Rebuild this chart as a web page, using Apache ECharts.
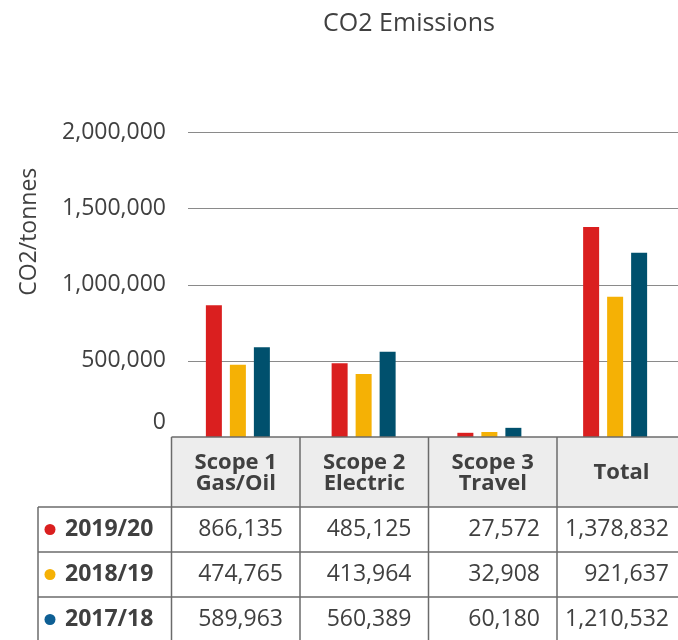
<!DOCTYPE html>
<html><head><meta charset="utf-8">
<script src="https://cdn.jsdelivr.net/npm/echarts@6/dist/echarts.min.js"></script>
<style>html,body{margin:0;padding:0;background:#fff}#c{width:678px;height:640px}</style>
</head><body><div id="c"></div>
<script>
const categories = ['Scope 1\nGas/Oil', 'Scope 2\nElectric', 'Scope 3\nTravel', 'Total'];
const seriesNames = ['2019/20', '2018/19', '2017/18'];
const v2019 = [866135, 485125, 27572, 1378832];
const v2018 = [474765, 413964, 32908, 921637];
const v2017 = [589963, 560389, 60180, 1210532];
const yTicks = [0, 500000, 1000000, 1500000, 2000000];

const colors = ['#da1f1f', '#f5b105', '#00506d'];
const dotColors = ['#da1f1f', '#f5b105', '#0e5f94'];
const FONT = 'Open Sans';
const txt = '#404040';

const values = [v2019, v2018, v2017];
const fmt = n => n.toLocaleString('en-US');

// table layout
const colEdges = [171.5, 300, 428.5, 557, 686];
const rowEdges = [437, 507, 552, 597, 642];
const tableLeft = 38;
const g = [];
const lineStyle = {stroke: '#6b6b6b', lineWidth: 1.5};
g.push({type: 'rect', shape: {x: colEdges[0], y: rowEdges[0], width: 678 - colEdges[0], height: rowEdges[1] - rowEdges[0]}, style: {fill: '#ededed'}, z: 1});
g.push({type: 'line', shape: {x1: colEdges[0], y1: rowEdges[0], x2: 678, y2: rowEdges[0]}, style: lineStyle, z: 5});
for (let r = 1; r < rowEdges.length; r++) {
  g.push({type: 'line', shape: {x1: tableLeft, y1: rowEdges[r], x2: 678, y2: rowEdges[r]}, style: lineStyle, z: 5});
}
g.push({type: 'line', shape: {x1: tableLeft, y1: rowEdges[1], x2: tableLeft, y2: 640}, style: lineStyle, z: 5});
for (let c = 0; c < 4; c++) {
  g.push({type: 'line', shape: {x1: colEdges[c], y1: rowEdges[0], x2: colEdges[c], y2: 640}, style: lineStyle, z: 5});
}
categories.forEach((cat, i) => {
  g.push({type: 'text', x: (colEdges[i] + colEdges[i + 1]) / 2, y: (rowEdges[0] + rowEdges[1]) / 2 + 1,
    style: {text: cat, font: 'bold 22px "' + FONT + '"', fill: txt, align: 'center', verticalAlign: 'middle', lineHeight: 21}, z: 6});
});
seriesNames.forEach((name, r) => {
  const cy = (rowEdges[r + 1] + rowEdges[r + 2]) / 2;
  g.push({type: 'circle', shape: {cx: 50, cy: cy, r: 5.5}, style: {fill: dotColors[r]}, z: 6});
  g.push({type: 'text', x: 65, y: cy, style: {text: name, font: 'bold 23px "' + FONT + '"', fill: txt, align: 'left', verticalAlign: 'middle'}, z: 6});
  values[r].forEach((v, c) => {
    g.push({type: 'text', x: colEdges[c + 1] - 17, y: cy, style: {text: fmt(v), font: '23px "' + FONT + '"', fill: txt, align: 'right', verticalAlign: 'middle'}, z: 6});
  });
});

const chart = echarts.init(document.getElementById('c'));
chart.setOption({
  animation: false,
  title: {text: 'CO2 Emissions', left: 404, top: 6, textAlign: 'center',
    textStyle: {fontFamily: FONT, fontSize: 25, fontWeight: 'normal', color: txt}},
  grid: [
    {left: 188, right: 0, top: 132.5, bottom: 203},
    {left: 175, width: 512, top: 132.5, bottom: 203}
  ],
  xAxis: [
    {gridIndex: 0, type: 'value', show: false},
    {gridIndex: 1, type: 'category', data: categories, show: false}
  ],
  yAxis: [
    {gridIndex: 0, type: 'value', min: yTicks[0], max: yTicks[yTicks.length - 1], interval: 500000,
      name: 'CO2/tonnes', nameLocation: 'middle', nameGap: 147, nameRotate: 90,
      nameTextStyle: {fontFamily: FONT, fontSize: 23, color: txt, padding: [0, 0, 0, 106]},
      axisLine: {show: false}, axisTick: {show: false},
      axisLabel: {margin: 22, fontFamily: FONT, fontSize: 23, color: txt,
        formatter: v => v === 0 ? '{z|0}' : fmt(v),
        rich: {z: {fontFamily: FONT, fontSize: 23, color: txt, padding: [0, 0, 30, 0]}}},
      splitLine: {show: true, lineStyle: {color: '#8a8a8a', width: 1.2}}},
    {gridIndex: 1, type: 'value', min: yTicks[0], max: yTicks[yTicks.length - 1], show: false, splitLine: {show: false}}
  ],
  series: seriesNames.map((name, i) => ({
    name: name, type: 'bar', xAxisIndex: 1, yAxisIndex: 1, data: values[i],
    barWidth: 16, barGap: '50%', itemStyle: {color: colors[i]}, z: 3
  })),
  graphic: g
});
</script></body></html>
